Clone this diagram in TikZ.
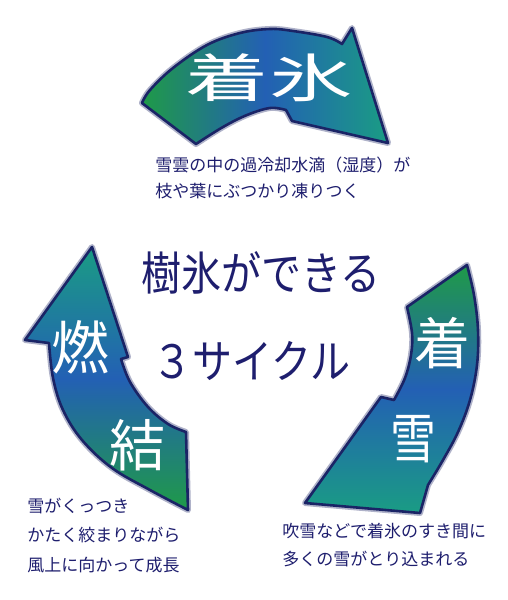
\documentclass[tikz,border=0pt]{standalone}
\usepackage{fontspec}
\usepackage{graphicx}
\newfontfamily\jp{Noto Sans CJK JP}
\definecolor{agreen}{HTML}{1F9A48}
\definecolor{ablue}{HTML}{2360B4}
\definecolor{ateal}{HTML}{1A9C84}
\definecolor{aborder}{HTML}{1A2466}
\definecolor{navytext}{HTML}{1E1E6E}
\tikzset{
  arrowglow/.style={draw=aborder!35, line width=3pt, line join=round},
  arrowbody/.style={draw=aborder, line width=1.3pt, line join=round},
  desc/.style={font=\jp\fontsize{8.5pt}{10pt}\selectfont, text=navytext, anchor=base west, inner sep=0pt},
  bigwhite/.style={text=white, inner sep=0pt, anchor=center},
  title/.style={font=\jp\fontsize{23pt}{25pt}\selectfont, text=navytext, anchor=base west, inner sep=0pt}
}
\begin{document}
\begin{tikzpicture}[x=0.5pt,y=-0.5pt]
\useasboundingbox (0,0) rectangle (508,600);
\fill[white] (0,0) rectangle (508,600);

% top arrow
\def\toparrow{plot[smooth, tension=0.6] coordinates {(142,103) (150,90) (173,68) (207,45) (240,33) (270,29) (293,31) (327,37) (342,44)} -- (352,28) -- (388,143) -- (292,121) -- (286,110) -- plot[smooth, tension=0.6] coordinates {(286,110) (270,108) (247,115) (223,127) (196,144)} -- cycle}
\path[arrowglow] \toparrow;
\path[arrowbody, left color=agreen, right color=ateal, middle color=ablue] \toparrow;

% right arrow
\def\rightarrow{plot[smooth, tension=0.6] coordinates {(467,265) (474,295) (478,330) (477,365) (470,400) (458,432) (443,460) (428,485)} -- (420,513) -- (305,503) -- (381,397) -- (394,400) -- plot[smooth, tension=0.6] coordinates {(394,400) (405,378) (411,355) (412,333) (407,307)} -- cycle}
\path[arrowglow] \rightarrow;
\path[arrowbody, top color=agreen, bottom color=ateal, middle color=ablue] \rightarrow;

% left arrow
\def\leftarrow{(92,247) -- (128,357) -- (121,359) -- plot[smooth, tension=0.6] coordinates {(121,359) (130,382) (148,407) (168,424) (186,432)} -- (188,510) -- plot[smooth, tension=0.6] coordinates {(188,510) (150,490) (112,468) (82,440) (63,410) (53,378) (49,343)} -- (25,340) -- cycle}
\path[arrowglow] \leftarrow;
\path[arrowbody, top color=ateal, bottom color=agreen, middle color=ablue] \leftarrow;

% labels in arrows
\node[bigwhite, font=\jp\fontsize{26pt}{26pt}\selectfont] (chakuhyo) at (269,78) {\scalebox{1.6}[1]{着氷}};
\node[bigwhite, font=\jp\fontsize{29pt}{29pt}\selectfont] (nen) at (80,347) {燃};
\node[bigwhite, font=\jp\fontsize{28pt}{28pt}\selectfont] (ketsu) at (137,445) {結};
\node[bigwhite, font=\jp\fontsize{28pt}{28pt}\selectfont] (chaku) at (442,343) {着};
\node[bigwhite, font=\jp\fontsize{27pt}{27pt}\selectfont] (setsu) at (413,439) {\scalebox{0.85}[1]{雪}};

% centre titles
\node[title] (t1) at (141,290) {\scalebox{0.87}[1]{樹氷ができる}};
\node[title] (t2) at (152,378) {\scalebox{0.87}[1]{３サイクル}};

% descriptions
\node[desc] (d1a) at (155,171) {雪雲の中の過冷却水滴（湿度）が};
\node[desc] (d1b) at (155,197) {枝や葉にぶつかり凍りつく};
\node[desc] (d2a) at (27,512) {雪がくっつき};
\node[desc] (d2b) at (27,541) {かたく絞まりながら};
\node[desc] (d2c) at (27,571) {風上に向かって成長};
\node[desc] (d3a) at (282,537) {吹雪などで着氷のすき間に};
\node[desc] (d3b) at (282,565) {多くの雪がとり込まれる};
\end{tikzpicture}
\end{document}
